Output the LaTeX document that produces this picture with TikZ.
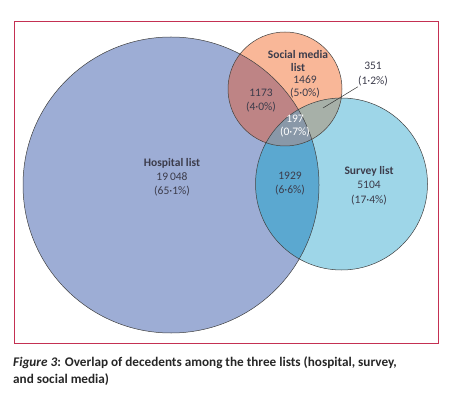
\documentclass[tikz,border=0pt]{standalone}
\usepackage{fontspec}
\setmainfont{Carlito}
\definecolor{hospFill}{RGB}{157,173,213}
\definecolor{socFill}{RGB}{249,183,152}
\definecolor{survFill}{RGB}{158,214,232}
\definecolor{hsFill}{RGB}{190,132,133}
\definecolor{hvFill}{RGB}{91,168,208}
\definecolor{svFill}{RGB}{167,176,168}
\definecolor{allFill}{RGB}{137,152,168}
\definecolor{frameRed}{RGB}{196,48,82}
\definecolor{txtGrey}{RGB}{60,60,75}
\newcommand{\hospcirc}{(171,185) circle (148pt)}
\newcommand{\soccirc}{(285,89) circle (57pt)}
\newcommand{\survcirc}{(341.5,184) circle (86pt)}

\begin{document}
\begin{tikzpicture}[x=1pt, y=-1pt, every node/.style={font=\fontsize{11.5}{14}\selectfont,text=txtGrey,align=center,inner sep=0pt}]
            \useasboundingbox (0,0) rectangle (454,395);
            \draw[frameRed, line width=0.9pt] (14,21) rectangle (438,343);

            % single areas
            \fill[hospFill] \hospcirc;
            \fill[survFill] \survcirc;
            \fill[socFill] \soccirc;
            % overlaps
            \begin{scope}
                \clip \hospcirc;
                \fill[hsFill] \soccirc;
                \fill[hvFill] \survcirc;
            \end{scope}
            \begin{scope}
                \clip \soccirc;
                \fill[svFill] \survcirc;
                \clip \survcirc;
                \fill[allFill] \hospcirc;
            \end{scope}
            \draw[black!75, line width=0.5pt] \hospcirc \survcirc \soccirc;

            \node (hosp) at (172,177) {\textbf{Hospital list}\\19\,048\\(65·1\%)};
            \node (soc) at (298,61) [font=\fontsize{11.5}{12.5}\selectfont] {\textbf{Social media}\\\textbf{list}};
            \node (socN) at (305,87) [font=\fontsize{11.5}{12.5}\selectfont] {1469\\(5·0\%)};
            \node (hs) at (261,100.5) [font=\fontsize{11.5}{14.5}\selectfont] {1173\\(4·0\%)};
            \node (all) at (295,126.5) [text=white, font=\fontsize{11.5}{13}\selectfont] {197\\(0·7\%)};
            \node (hv) at (290,184) {1929\\(6·6\%)};
            \node (surv) at (369,185.5) [font=\fontsize{11.5}{14.5}\selectfont] {\textbf{Survey list}\\5104\\(17·4\%)};
            \node (sv) at (373,74.5) [font=\fontsize{11.5}{15}\selectfont] {351\\(1·2\%)};
            \coordinate (svIn) at (323,108);
            \draw[black!80, line width=0.5pt] (svIn) -- (sv.south west);

            \node (cap1) [anchor=base west, text=black!85, font=\fontsize{13.2}{14}\selectfont\bfseries] at (13,366)
                {\textit{Figure 3}: Overlap of decedents among the three lists (hospital, survey,};
            \node (cap2) [anchor=base west, text=black!85, font=\fontsize{13.2}{14}\selectfont\bfseries] at (13,383)
                {and social media)};
        \end{tikzpicture}
\end{document}
